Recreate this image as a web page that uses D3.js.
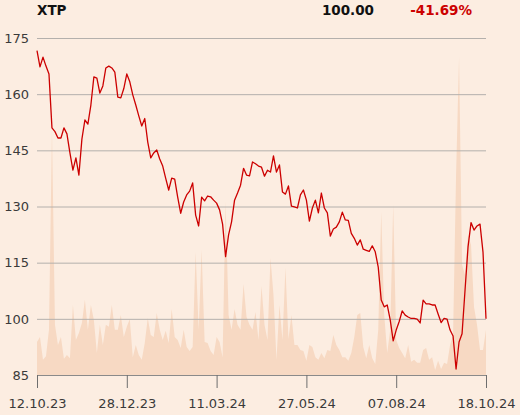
<!DOCTYPE html>
<html>
<head>
<meta charset="utf-8">
<script src="https://cdn.jsdelivr.net/npm/d3@7"></script>
<style>
html,body{margin:0;padding:0;background:#fcede1;}
svg{display:block;}
text{font-family:"DejaVu Sans",Verdana,sans-serif;}
</style>
</head>
<body>
<svg id="chart" width="520" height="415"></svg>
<script>
// ---- data ----
const symbol = "XTP";
const lastValue = "100.00";
const changeText = "-41.69%";

const prices = [
 171.6,167.3,169.9,167.5,165.4,151.0,150.0,148.3,148.3,151.0,
 149.4,144.3,139.7,143.0,138.4,148.0,153.1,152.0,157.1,164.6,
 164.3,160.3,162.2,167.0,167.5,167.0,165.9,159.2,159.0,161.5,
 165.4,163.3,159.8,157.1,154.2,151.5,153.5,147.2,143.0,144.3,
 145.1,142.7,140.8,137.5,134.4,137.6,137.3,132.5,128.2,131.2,
 133.1,134.1,136.3,127.7,124.8,132.5,131.5,132.8,132.6,131.7,
 130.9,129.1,125.3,116.6,122.4,125.9,131.7,133.6,135.7,140.2,
 138.4,138.2,141.9,141.4,140.8,140.5,138.1,139.7,139.2,143.5,
 139.2,141.1,133.9,133.3,135.5,130.1,129.9,129.6,133.1,134.4,
 131.7,126.1,129.6,131.7,128.3,133.6,129.6,128.3,122.1,124.0,
 124.5,125.9,128.5,126.4,126.3,122.8,121.5,119.7,121.1,118.6,
 118.3,118.0,119.5,117.9,113.8,105.0,103.2,103.7,99.7,94.1,
 97.0,99.3,102.1,101.0,100.5,100.1,100.1,99.9,98.9,105.0,
 104.0,104.0,103.7,103.7,101.3,99.0,100.1,99.9,97.0,95.4,
 86.6,93.8,96.0,107.7,119.2,125.7,123.7,124.8,125.3,117.8,
 100.0
];

const volumes = [
 98,113,45,56,134,728,149,89,113,48,
 59,50,208,104,125,154,223,134,208,163,
 65,149,89,149,143,208,134,134,178,113,
 143,166,53,89,59,45,95,169,119,113,
 184,134,104,131,95,196,113,104,80,134,
 83,71,83,365,134,371,98,95,71,59,
 113,98,53,514,178,134,196,149,134,270,
 172,149,134,187,104,264,149,104,347,238,
 45,208,104,318,107,178,89,89,74,71,
 42,89,83,53,45,65,50,74,71,119,
 89,74,53,53,42,65,113,178,184,83,
 50,89,50,33,134,484,178,65,134,505,
 104,80,65,50,89,39,45,36,36,74,
 80,45,53,15,42,18,36,33,89,119,
 594,944,327,297,416,386,202,149,74,74,
 134
];

const yTicks = [85, 100, 115, 130, 145, 160, 175];
const xTickIndex = [0, 30, 60, 90, 120, 150];
const xTickLabels = ["12.10.23", "28.12.23", "11.03.24", "27.05.24", "07.08.24", "18.10.24"];

// ---- layout ----
const W = 520, H = 415;
const mLeft = 37, mRight = 486, mTop = 38, mBottom = 375;

const svg = d3.select("#chart");
svg.append("rect").attr("width", W).attr("height", H).attr("fill", "#fcede1");

const x = d3.scaleLinear().domain([0, prices.length - 1]).range([mLeft, mRight]);
const y = d3.scaleLinear().domain([85, 175]).range([mBottom, mTop]);
const yv = d3.scaleLinear().domain([0, 1000]).range([mBottom, mTop]);

// volume area
svg.append("path")
  .datum(volumes)
  .attr("fill", "#f7d9c3")
  .attr("d", d3.area().x((d, i) => x(i)).y0(mBottom).y1(d => yv(d)));

// gridlines
const gridAxis = d3.axisLeft(y).tickValues(yTicks).tickSize(-(mRight - mLeft)).tickFormat("");
const g = svg.append("g").attr("transform", `translate(${mLeft},0)`).call(gridAxis);
g.select(".domain").remove();
g.selectAll(".tick line").attr("stroke", "#b4b0ac").attr("stroke-width", 1);

// y labels
const yl = svg.append("g");
yl.selectAll("text").data(yTicks).join("text")
  .attr("x", 29).attr("y", d => y(d)).attr("dy", "0.36em")
  .attr("text-anchor", "end").attr("font-size", 13).attr("fill", "#3a3a3a")
  .text(d => d);

// x axis
const xAxis = d3.axisBottom(x).tickValues(xTickIndex).tickSize(13)
  .tickFormat((d, i) => xTickLabels[i]);
const xa = svg.append("g").attr("transform", `translate(0,${mBottom})`).call(xAxis);
xa.select(".domain").attr("stroke", "#8a8a8a");
xa.selectAll(".tick line").attr("stroke", "#6e6e6e");
xa.selectAll(".tick text").attr("font-size", 13).attr("fill", "#3a3a3a")
  .attr("font-family", "DejaVu Sans, sans-serif").attr("y", 24).attr("dy", "0.71em");

// price line
svg.append("path")
  .datum(prices)
  .attr("fill", "none")
  .attr("stroke", "#cc0000")
  .attr("stroke-width", 1.3)
  .attr("stroke-linejoin", "round")
  .attr("d", d3.line().x((d, i) => x(i)).y(d => y(d)));

// header
svg.append("text").attr("x", 37).attr("y", 15).attr("font-size", 13.5)
  .attr("font-weight", "bold").attr("fill", "#111").text(symbol);
svg.append("text").attr("x", 374).attr("y", 15).attr("font-size", 13.5)
  .attr("font-weight", "bold").attr("fill", "#111").attr("text-anchor", "end").text(lastValue);
svg.append("text").attr("x", 472).attr("y", 15).attr("font-size", 13.5)
  .attr("font-weight", "bold").attr("fill", "#cc0000").attr("text-anchor", "end").text(changeText);
</script>
</body>
</html>
